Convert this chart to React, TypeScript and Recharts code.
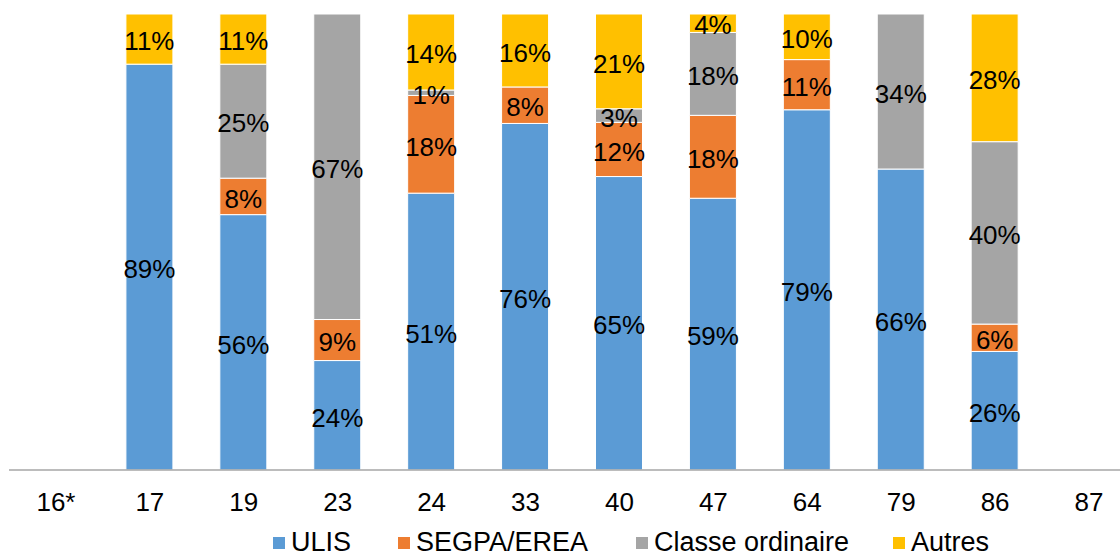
import React from 'react';
import { BarChart, Bar, XAxis, YAxis, Legend, LabelList } from 'recharts';

const categories = ['16*', '17', '19', '23', '24', '33', '40', '47', '64', '79', '86', '87'];
const ulis = [0, 89, 56, 24, 51, 76, 65, 59, 79, 66, 26, 0];
const segpa = [0, 0, 8, 9, 18, 8, 12, 18, 11, 0, 6, 0];
const classe = [0, 0, 25, 67, 1, 0, 3, 18, 0, 34, 40, 0];
const autres = [0, 11, 11, 0, 14, 16, 21, 4, 10, 0, 28, 0];

const seriesNames = ['ULIS', 'SEGPA/EREA', 'Classe ordinaire', 'Autres'];
const seriesColors = ['#5B9BD5', '#ED7D31', '#A5A5A5', '#FFC000'];

const data = categories.map((c, i) => ({
  name: c,
  ULIS: ulis[i],
  'SEGPA/EREA': segpa[i],
  'Classe ordinaire': classe[i],
  Autres: autres[i],
}));

const FONT = '"Liberation Sans", Arial, sans-serif';

const itemWidths = [125, 238, 257, 200];

const renderLegend = () => (
  <div style={{ display: 'flex', paddingLeft: 273, fontFamily: FONT, fontSize: 27, lineHeight: '24px', height: 24, color: '#000' }}>
    {seriesNames.map((n, i) => (
      <div key={n} style={{ width: itemWidths[i], display: 'flex', alignItems: 'center', whiteSpace: 'nowrap' }}>
        <span style={{ display: 'inline-block', width: 12, height: 12, background: seriesColors[i], marginRight: 6, marginTop: 2 }} />
        <span>{n}</span>
      </div>
    ))}
  </div>
);

const CatTick = (props: any) => {
  const { x, y, payload } = props;
  return (
    <text x={x} y={y + 41} textAnchor="middle" fill="#000" fontSize={26} fontFamily={FONT}>
      {payload.value}
    </text>
  );
};

const fmt = (v: any) => (v ? `${v}%` : '');

export default function App() {
  return (
    <div style={{ position: 'fixed', left: 0, top: 0, width: 1120, height: 554, overflow: 'hidden', background: '#fff', fontFamily: FONT }}>
      <BarChart
        width={1140}
        height={554}
        data={data}
        stackOffset="expand"
        margin={{ top: 14, right: 4, left: 9, bottom: 54 }}
        style={{ fontFamily: FONT }}
      >
        <XAxis
          dataKey="name"
          height={30}
          axisLine={{ stroke: '#A6A6A6', strokeWidth: 1.5 }}
          tickLine={false}
          tickSize={0}
          tickMargin={0}
          tick={<CatTick />}
          interval={0}
        />
        <YAxis hide domain={[0, 1]} />
        <Legend
          layout="vertical"
          align="center"
          verticalAlign="middle"
          content={renderLegend}
          wrapperStyle={{ top: 530, left: 0, width: 1120, height: 24 }}
        />
        {seriesNames.map((n, i) => (
          <Bar
            key={n}
            dataKey={n}
            stackId="a"
            fill={seriesColors[i]}
            stroke="#fff"
            strokeWidth={1}
            barSize={47}
            isAnimationActive={false}
          >
            <LabelList
              dataKey={n}
              position="center"
              formatter={fmt}
              dy={2}
              fill="#000"
              style={{ fontSize: 26, fontFamily: FONT, fill: '#000' }}
            />
          </Bar>
        ))}
      </BarChart>
    </div>
  );
}
